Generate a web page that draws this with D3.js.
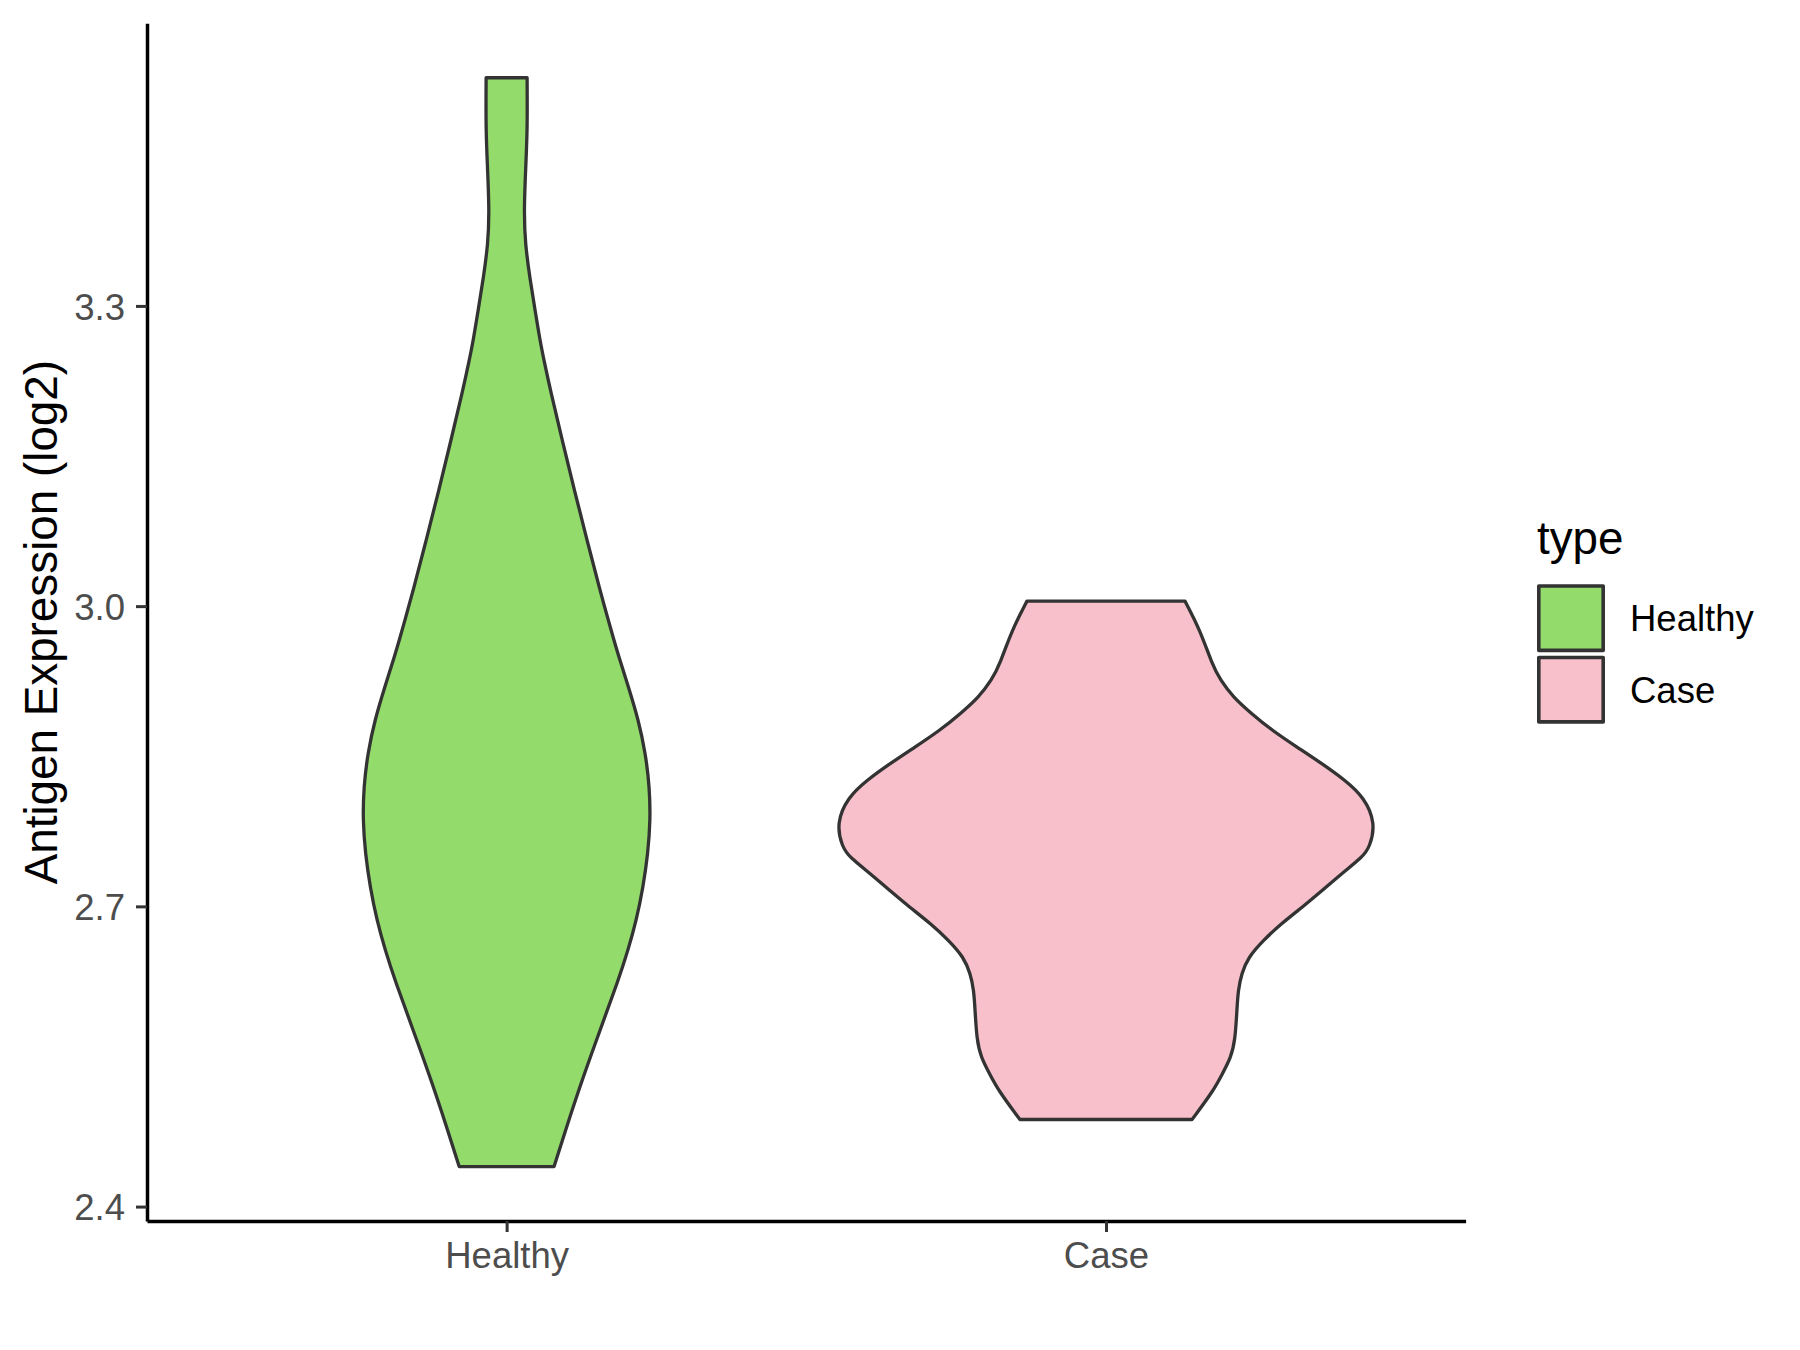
<!DOCTYPE html>
<head>
  <meta charset="utf-8">
  <script src="https://d3js.org/d3.v7.min.js"></script>
  <style>
    body { margin:0; background:#fff; }
    text { font-family: "Liberation Sans", Arial, sans-serif; }
  </style>
</head>
<body>
<script>

var categories = ["Healthy", "Case"];
var fills = ["#93DB6A", "#F7C0CB"];
var yTicks = [2.4, 2.7, 3.0, 3.3];

// violin outlines:
// value on the y axis, and half width relative to the widest point (Case peak = 1)
var healthyY = [3.528, 3.478, 3.445, 3.395, 3.362, 3.328, 3.295, 3.265, 3.245, 3.215,
                3.165, 3.115, 3.065, 3.015, 2.986, 2.966, 2.953, 2.919, 2.886, 2.853,
                2.819, 2.786, 2.753, 2.719, 2.686, 2.656, 2.626, 2.576, 2.526, 2.476, 2.440];
var healthyW = [0.076, 0.077, 0.072, 0.064, 0.069, 0.086, 0.106, 0.124, 0.139, 0.163,
                0.207, 0.252, 0.299, 0.347, 0.377, 0.398, 0.412, 0.452, 0.489, 0.515,
                0.530, 0.533, 0.524, 0.506, 0.481, 0.450, 0.414, 0.346, 0.279, 0.218, 0.176];

var caseY = [3.005, 2.976, 2.943, 2.926, 2.909, 2.893, 2.876, 2.859, 2.843, 2.826,
             2.809, 2.783, 2.759, 2.749, 2.733, 2.716, 2.699, 2.683, 2.666, 2.649,
             2.633, 2.616, 2.599, 2.566, 2.549, 2.533, 2.516, 2.487];
var caseW = [0.293, 0.349, 0.392, 0.424, 0.472, 0.538, 0.615, 0.709, 0.799, 0.887,
             0.957, 1.000, 0.978, 0.950, 0.875, 0.803, 0.727, 0.651, 0.583, 0.527,
             0.503, 0.490, 0.486, 0.479, 0.463, 0.432, 0.399, 0.319];

var width = 1800, height = 1350;
var plotLeft = 147, plotRight = 1465.6, plotTop = 23.3, plotBottom = 1221;

var violins = [
  { name: categories[0], fill: fills[0], pts: healthyY.map(function(v, i) { return { v: v, w: healthyW[i] }; }) },
  { name: categories[1], fill: fills[1], pts: caseY.map(function(v, i) { return { v: v, w: caseW[i] }; }) }
];

var allY = healthyY.concat(caseY);
var lo = d3.min(allY), hi = d3.max(allY), pad = (hi - lo) * 0.05;

var y = d3.scaleLinear().domain([lo - pad, hi + pad]).range([plotBottom, plotTop]);
var x = d3.scalePoint().domain(categories).range([plotLeft, plotRight]).padding(0.6);
var half = x.step() * 0.45;

var svg = d3.select("body").append("svg")
  .attr("width", width)
  .attr("height", height);

var area = d3.area()
  .curve(d3.curveBasis)
  .y(function(d) { return y(d.v); });

svg.selectAll(".violin")
  .data(violins)
  .enter().append("path")
  .attr("class", "violin")
  .attr("d", function(d) {
    var cx = x(d.name);
    return area.x0(function(p) { return cx - p.w * half; })
               .x1(function(p) { return cx + p.w * half; })(d.pts);
  })
  .style("fill", function(d) { return d.fill; })
  .style("stroke", "#333333")
  .style("stroke-width", 3.3)
  .style("stroke-linejoin", "round");

// axes
var yAxis = svg.append("g")
  .attr("transform", "translate(" + plotLeft + ",0)")
  .call(d3.axisLeft(y).tickValues(yTicks).tickFormat(d3.format(".1f")).tickSize(11).tickPadding(11).tickSizeOuter(0));

var xAxis = svg.append("g")
  .attr("transform", "translate(0," + plotBottom + ")")
  .call(d3.axisBottom(x).tickSize(11).tickPadding(8).tickSizeOuter(0));

[yAxis, xAxis].forEach(function(g) {
  g.select(".domain").style("stroke", "#000").style("stroke-width", 3.5);
  g.selectAll(".tick line").style("stroke", "#333333").style("stroke-width", 3);
  g.selectAll(".tick text")
    .attr("font-family", "Liberation Sans, Arial, sans-serif")
    .attr("font-size", 36.5)
    .style("fill", "#4D4D4D");
});
yAxis.selectAll(".tick text").attr("dy", "0.36em");
xAxis.selectAll(".tick text").attr("dy", "0.76em");

svg.append("text")
  .attr("transform", "translate(57," + ((plotTop + plotBottom) / 2) + ") rotate(-90)")
  .attr("text-anchor", "middle")
  .attr("font-size", 45.8)
  .style("fill", "#000")
  .text("Antigen Expression (log2)");

// legend
var legend = svg.append("g").attr("transform", "translate(1537,0)");

legend.append("text")
  .attr("x", 0)
  .attr("y", 554)
  .attr("font-size", 45.8)
  .style("fill", "#000")
  .text("type");

var keys = legend.selectAll(".key")
  .data(violins)
  .enter().append("g")
  .attr("class", "key")
  .attr("transform", function(d, i) { return "translate(0," + (618.2 + i * 71.5) + ")"; });

keys.append("rect")
  .attr("x", 1.8)
  .attr("y", -32.2)
  .attr("width", 64.4)
  .attr("height", 64.4)
  .style("fill", function(d) { return d.fill; })
  .style("stroke", "#333333")
  .style("stroke-width", 3.6)
  .style("stroke-linejoin", "round");

keys.append("text")
  .attr("x", 93)
  .attr("y", 12.8)
  .attr("font-size", 36.5)
  .style("fill", "#000")
  .text(function(d) { return d.name; });

</script>
</body>
